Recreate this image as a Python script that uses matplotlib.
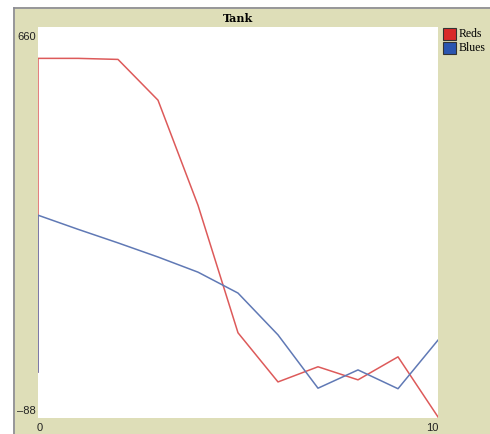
import numpy as np
import matplotlib
matplotlib.use('Agg')
import matplotlib.pyplot as plt
from matplotlib.patches import Rectangle
from matplotlib.lines import Line2D

# Data (tick, population)
ticks = [0, 0, 1, 2, 3, 4, 5, 6, 7, 8, 9, 10]
reds = [0, 600, 600, 598, 520, 319, 75, -19, 10, -15, 29, -86]
blues = [0, 300, 273, 247, 220, 191, 151, 71, -31, 4, -32, 61]
series_names = ['Reds', 'Blues']
x_range = [0, 10]
y_range = [-88, 660]
title = 'Tank'

W, H = 490, 434
khaki = '#dedeb8'
red_line = '#dd5a5a'
blue_line = '#6079b5'

fig = plt.figure(figsize=(W / 100, H / 100), dpi=100)
fig.patch.set_facecolor('white')

def fx(px):
    return px / W

def fy(py):
    return 1 - py / H

# panel background with grey frame on left/top
fig.patches.append(Rectangle((fx(13), 0), 1 - fx(13), fy(7), transform=fig.transFigure,
                             facecolor=khaki, edgecolor='none', zorder=-5))
fig.lines.append(Line2D([fx(13.5), fx(13.5)], [0, fy(7.5)], transform=fig.transFigure,
                        color='#8a8a94', lw=1.2, zorder=-4))
fig.lines.append(Line2D([fx(13.5), 1], [fy(7.5), fy(7.5)], transform=fig.transFigure,
                        color='#8a8a94', lw=1.2, zorder=-4))

ax = fig.add_axes([fx(38), fy(418), fx(400), 391 / H])
ax.set_zorder(2)
ax.set_facecolor('white')
for s in ax.spines.values():
    s.set_visible(False)
ax.set_xticks([])
ax.set_yticks([])
ax.set_xlim(x_range)
ax.set_ylim(y_range)

ax.plot(ticks, reds, color=red_line, lw=1.1)
ax.plot(ticks, blues, color=blue_line, lw=1.1)

# title and range labels
fig.text(fx(238), fy(18), title, ha='center', va='center', fontsize=8,
         fontweight='bold', family='DejaVu Serif')
num_font = dict(fontsize=8, family='Liberation Sans', color='#222222')
fig.text(fx(36), fy(37), str(y_range[1]), ha='right', va='center', **num_font)
fig.text(fx(36), fy(411), str(y_range[0]).replace('-', '\u2013'), ha='right', va='center', **num_font)
fig.text(fx(40), fy(428), str(x_range[0]), ha='center', va='center', **num_font)
fig.text(fx(432), fy(428), str(x_range[1]), ha='center', va='center', **num_font)

# legend on the right side
legend_cols = ['#d92a2a', '#2a55b0']
for i, (name, col) in enumerate(zip(series_names, legend_cols)):
    top = 28 + i * 14
    fig.patches.append(Rectangle((fx(443), fy(top + 12)), fx(13), 12 / H,
                                 transform=fig.transFigure, facecolor=col,
                                 edgecolor='#333333', lw=0.8))
    fig.text(fx(459), fy(top + 6), name, ha='left', va='center', fontsize=8.5,
             family='Liberation Serif')

fig.savefig('out.png', dpi=100, facecolor=fig.get_facecolor())
